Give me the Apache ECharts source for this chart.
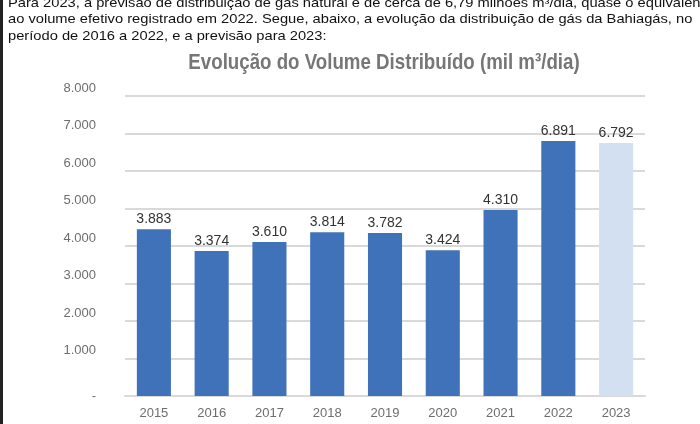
<!DOCTYPE html>
<html>
<head>
<meta charset="utf-8">
<script src="https://cdn.jsdelivr.net/npm/echarts@6/dist/echarts.min.js"></script>
<style>
  html, body { margin: 0; padding: 0; background: #fff; }
  #main { width: 700px; height: 424px; }
</style>
</head>
<body>
<div id="main"></div>
<script>
// dados do gráfico (mil m³/dia)
var years = ['2015', '2016', '2017', '2018', '2019', '2020', '2021', '2022', '2023'];
// valores impressos sobre as barras
var volumes = [3883, 3374, 3610, 3814, 3782, 3424, 4310, 6891, 6792];
// altura das barras como aparecem no gráfico original
var barHeights = [4450, 3870, 4110, 4370, 4350, 3890, 4960, 6800, 6750];
var yTicks = [0, 1000, 2000, 3000, 4000, 5000, 6000, 7000, 8000];
var paragraph = [
  'Para 2023, a previsão de distribuição de gás natural é de cerca de 6,79 milhões m³/dia, quase o equivalente',
  'ao volume efetivo registrado em 2022. Segue, abaixo, a evolução da distribuição de gás da Bahiagás, no',
  'período de 2016 a 2022, e a previsão para 2023:'
];
var chartTitle = 'Evolução do Volume Distribuído (mil m³/dia)';

var FONT = '"Liberation Sans", Arial, sans-serif';

function fmt(v) {
  if (v === 0) return '-';
  return String(v).replace(/\B(?=(\d{3})+(?!\d))/g, '.');
}

var myChart = echarts.init(document.getElementById('main'), null, { renderer: 'canvas' });

// texto do relatório acima do gráfico
var textLines = paragraph.map(function (line, i) {
  return {
    type: 'text',
    x: 8,
    y: 3 + i * 16.5,
    scaleX: 1.13,
    style: { text: line, fontFamily: FONT, fontSize: 13, fill: '#111', verticalAlign: 'middle' }
  };
});

myChart.setOption({
  animation: false,
  textStyle: { fontFamily: FONT },
  graphic: [
    { type: 'rect', left: 0, top: 0, shape: { width: 3, height: 424 }, style: { fill: '#222' } },
    {
      type: 'text',
      x: 384,
      y: 63,
      scaleX: 0.85,
      style: {
        text: chartTitle, fontFamily: FONT, fontSize: 22, fontWeight: 'bold',
        fill: '#767676', align: 'center', verticalAlign: 'middle'
      }
    }
  ].concat(textLines),
  grid: { left: 125, right: 55, top: 96, bottom: 28 },
  xAxis: {
    type: 'category',
    data: years,
    axisLine: { show: true, lineStyle: { color: '#d9d9d9', width: 2 } },
    axisTick: { show: false },
    axisLabel: { color: '#6e6e6e', fontSize: 13, margin: 11, fontFamily: FONT }
  },
  yAxis: {
    type: 'value',
    min: yTicks[0],
    max: yTicks[yTicks.length - 1],
    interval: 1000,
    axisLine: { show: false },
    axisTick: { show: false },
    splitLine: { lineStyle: { color: '#d9d9d9', width: 2 } },
    axisLabel: {
      margin: 29,
      formatter: function (v) {
        return v === 0 ? '{d|-}' : '{n|' + fmt(v) + '}';
      },
      rich: {
        n: { color: '#6e6e6e', fontSize: 13, fontFamily: FONT, padding: [0, 0, 16, 0] },
        d: { color: '#6e6e6e', fontSize: 13, fontFamily: FONT }
      }
    }
  },
  series: [{
    type: 'bar',
    barWidth: '59%',
    data: barHeights.map(function (h, i) {
      return {
        value: h,
        itemStyle: { color: i === barHeights.length - 1 ? '#d3e0f1' : '#3f72b9' }
      };
    }),
    label: {
      show: true,
      position: 'top',
      distance: 3,
      fontSize: 14,
      color: '#333',
      fontFamily: FONT,
      formatter: function (p) { return fmt(volumes[p.dataIndex]); }
    }
  }]
});
</script>
</body>
</html>
